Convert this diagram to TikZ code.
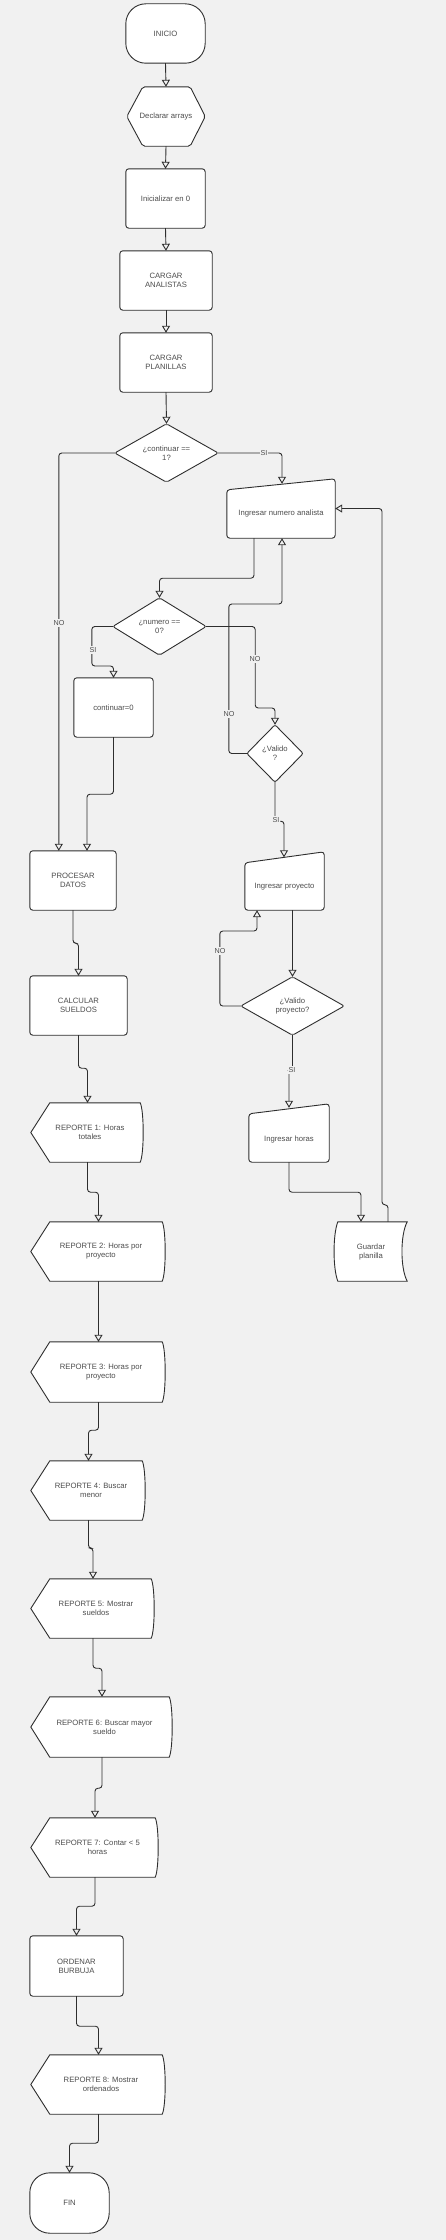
\documentclass[tikz,border=0pt]{standalone}
\usepackage{fontspec}
\setmainfont{Liberation Sans}
\usetikzlibrary{arrows.meta,calc}
\definecolor{bgc}{HTML}{F1F1F1}
\definecolor{lc}{HTML}{2E2E2E}
\definecolor{tc}{HTML}{4D4D4D}
\pgfdeclarelayer{bgl}
\pgfdeclarelayer{shl}
\pgfsetlayers{bgl,shl,main}
\begin{document}
\begin{tikzpicture}[x=1pt,y=-1pt,
  t/.style={align=center, text=tc, font=\fontsize{7.7}{9}\selectfont, inner sep=0pt, draw=none},
  sz/.style 2 args={minimum width=#1pt, minimum height=#2pt},
  sh/.style={draw=lc, fill=white, line width=0.9pt},
  arr/.style={draw=lc, line width=0.9pt, rounded corners=3pt, -{Triangle[open, width=8pt, length=7pt]}},
  lbl/.style={fill=bgc, text=tc, font=\fontsize{7.2}{8}\selectfont, inner sep=1pt}]
\begin{pgfonlayer}{bgl}
\fill[bgc] (0,0) rectangle (446,2240);
\end{pgfonlayer}
\useasboundingbox (0,0) rectangle (446,2240);

% ---------- nodes ----------
\node[t,sz={79}{59}] (inicio) at (165.5,33.5) {INICIO};
\node[t,sz={78}{59}] (decl) at (166,116.5) {Declarar arrays};
\node[t,sz={79}{59}] (init) at (165.5,198.5) {Inicializar en 0};
\node[t,sz={92}{59}] (cana) at (166,280.5) {CARGAR\\ANALISTAS};
\node[t,sz={92}{59}] (cpla) at (166,362.5) {CARGAR\\PLANILLAS};
\node[t,sz={103}{58}] (cont) at (166.5,453) {¿continuar ==\\1?};
\node[t,sz={108}{59}] (ana) at (281,508.5) {};
\node[t] (anat) at (281,514) {Ingresar numero analista};
\node[t,sz={93}{57}] (num) at (159.5,626.5) {¿numero ==\\0?};
\node[t,sz={79}{59}] (c0) at (113.5,707.5) {continuar=0};
\node[t,sz={56}{57}] (val) at (275,753.5) {¿Valido\\?};
\node[t,sz={86}{59}] (proc) at (73,880.5) {PROCESAR\\DATOS};
\node[t,sz={79}{58}] (proy) at (284.5,881) {};
\node[t] (proyt) at (284.5,887) {Ingresar proyecto};
\node[t,sz={103}{58}] (valp) at (292.5,1006) {¿Valido\\proyecto?};
\node[t,sz={97}{59}] (calc) at (78.5,1005.5) {CALCULAR\\SUELDOS};
\node[t,sz={80}{58}] (hor) at (289,1133) {};
\node[t] (hort) at (289,1139) {Ingresar horas};
\node[t,sz={72}{59}] (gp) at (371,1251.5) {Guardar\\planilla};
\node[t,sz={113}{59}] (r1) at (87.5,1132.5) {};
\node[t] (r1t) at (90,1132.5) {REPORTE 1: Horas\\totales};
\node[t,sz={135}{59}] (r2) at (98.5,1251.5) {};
\node[t] (r2t) at (101,1251.5) {REPORTE 2: Horas por\\proyecto};
\node[t,sz={135}{60}] (r3) at (98.5,1372) {};
\node[t] (r3t) at (101,1372) {REPORTE 3: Horas por\\proyecto};
\node[t,sz={115}{59}] (r4) at (88.5,1490.5) {};
\node[t] (r4t) at (91,1490.5) {REPORTE 4: Buscar\\menor};
\node[t,sz={124}{59}] (r5) at (93,1608.5) {};
\node[t] (r5t) at (96,1608.5) {REPORTE 5: Mostrar\\sueldos};
\node[t,sz={142}{60}] (r6) at (102,1727) {};
\node[t] (r6t) at (104.5,1727) {REPORTE 6: Buscar mayor\\sueldo};
\node[t,sz={128}{59}] (r7) at (95,1847.5) {};
\node[t] (r7t) at (97.5,1847.5) {REPORTE 7: Contar < 5\\horas};
\node[t,sz={93}{60}] (ord) at (76.5,1966) {ORDENAR\\BURBUJA};
\node[t,sz={135}{59}] (r8) at (98.5,2084.5) {};
\node[t] (r8t) at (101,2084.5) {REPORTE 8: Mostrar\\ordenados};
\node[t,sz={79}{60}] (fin) at (69.5,2203) {FIN};

% ---------- shapes ----------
\begin{pgfonlayer}{shl}
\foreach \n in {inicio,fin}
  \draw[sh,rounded corners=20pt] (\n.north west) rectangle (\n.south east);
\foreach \n in {init,cana,cpla,c0,proc,calc,ord}
  \draw[sh,rounded corners=3pt] (\n.north west) rectangle (\n.south east);
\draw[sh,rounded corners=2pt] (decl.west) -- ($(decl.north west)+(16,0)$) -- ($(decl.north east)+(-15,0)$)
  -- (decl.east) -- ($(decl.south east)+(-15,0)$) -- ($(decl.south west)+(16,0)$) -- cycle;
\foreach \n in {cont,num,val,valp}
  \draw[sh,rounded corners=2pt] (\n.west) -- (\n.north) -- (\n.east) -- (\n.south) -- cycle;
\draw[sh,rounded corners=3pt] (ana.south west) -- ($(ana.north west)+(0,11)$) -- (ana.north east) -- (ana.south east) -- cycle;
\draw[sh,rounded corners=3pt] (proy.south west) -- ($(proy.north west)+(0,11)$) -- (proy.north east) -- (proy.south east) -- cycle;
\draw[sh,rounded corners=3pt] (hor.south west) -- ($(hor.north west)+(0,10)$) -- (hor.north east) -- (hor.south east) -- cycle;
\foreach \n in {r1,r2,r3,r4,r5,r6,r7,r8}
  \draw[sh] (\n.west) -- ($(\n.north west)+(19,0)$) -- ($(\n.north east)+(-4,0)$)
    .. controls ($(\n.north east)+(0,8)$) and ($(\n.south east)+(0,-8)$) .. ($(\n.south east)+(-4,0)$)
    -- ($(\n.south west)+(19,0)$) -- cycle;
\draw[sh] ($(gp.north west)+(3,0)$) -- (gp.north east)
  .. controls ($(gp.north east)+(-7,13)$) and ($(gp.south east)+(-7,-13)$) .. (gp.south east)
  -- ($(gp.south west)+(3,0)$)
  .. controls ($(gp.south west)+(-2,-13)$) and ($(gp.north west)+(-2,13)$) .. ($(gp.north west)+(3,0)$) -- cycle;
\end{pgfonlayer}

% ---------- connectors ----------
\draw[arr] (inicio.south) -- (decl.north);
\draw[arr] (decl.south) -- (init.north);
\draw[arr] (init.south) -- (cana.north);
\draw[arr] (cana.south) -- (cpla.north);
\draw[arr] (cpla.south) -- (cont.north);
\draw[arr] (cont.west) -| ($(proc.north west)+(29,0)$);
\draw[arr] (cont.east) -| ($(ana.north)+(1,5)$);
\draw[arr] ($(ana.south)+(-27,0)$) -- ++(0,40) -| (num.north);
\draw[arr] (num.west) -- ++(-21,0) -- ++(0,39.5) -| (c0.north);
\draw[arr] (c0.south) -- ++(0,57) -| ($(proc.north)+(14,0)$);
\draw[arr] (num.east) -- ++(49,0) -- ++(0,81.5) -| (val.north);
\draw[arr] (val.west) -- ++(-18,0) -- ++(0,-149.5) -| ($(ana.south)+(1,0)$);
\draw[arr] (val.south) -- ++(0,39) -| ($(proy.north)+(-0.5,5.5)$);
\draw[arr] (valp.north |- proy.south) -- (valp.north);
\draw[arr] (valp.west) -- ++(-21,0) -- ++(0,-75) -| ($(proy.south)+(-27.5,0)$);
\draw[arr] (valp.south) -- ++(0,35) -| ($(hor.north)+(0,4)$);
\draw[arr] (hor.south) -- ++(0,30) -| ($(gp.north)+(-10,0)$);
\draw[arr] ($(gp.north)+(17,0)$) -- ++(0,-17) -- ++(-6,0) |- (ana.east);
\draw[arr] (proc.south) -- ++(0,33) -| (calc.north);
\draw[arr] (calc.south) -- ++(0,33) -| (r1.north);
\draw[arr] (r1.south) -- ++(0,30) -| (r2.north);
\draw[arr] (r2.south) -- (r3.north);
\draw[arr] (r3.south) -- ++(0,28) -| (r4.north);
\draw[arr] (r4.south) -- ++(0,28) -| (r5.north);
\draw[arr] (r5.south) -- ++(0,30) -| (r6.north);
\draw[arr] (r6.south) -- ++(0,31) -| (r7.north);
\draw[arr] (r7.south) -- ++(0,29) -| (ord.north);
\draw[arr] (ord.south) -- ++(0,30) -| (r8.north);
\draw[arr] (r8.south) -- ++(0,29) -| (fin.north);

% ---------- labels ----------
\node[lbl] (l1) at (59,623) {NO};
\node[lbl] (l2) at (264,453) {SI};
\node[lbl] (l3) at (93,650) {SI};
\node[lbl] (l4) at (255,659) {NO};
\node[lbl] (l5) at (229,714) {NO};
\node[lbl] (l6) at (276,820) {SI};
\node[lbl] (l7) at (220,951) {NO};
\node[lbl] (l8) at (292,1070) {SI};
\end{tikzpicture}
\end{document}
